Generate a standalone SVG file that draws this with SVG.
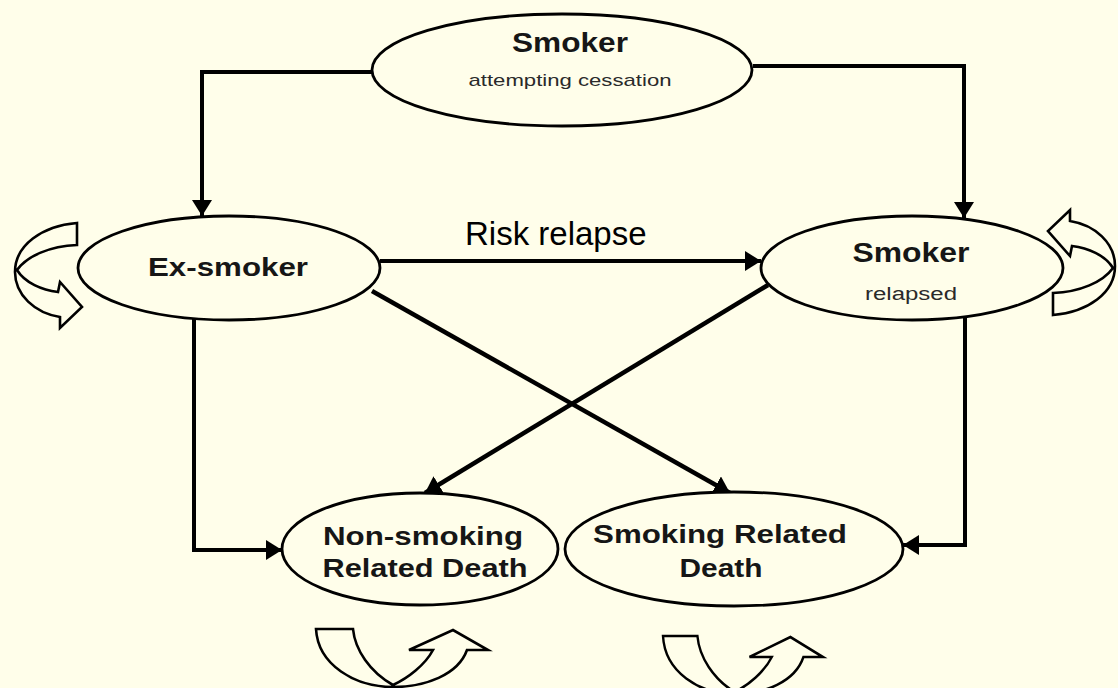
<svg xmlns="http://www.w3.org/2000/svg" xmlns:xlink="http://www.w3.org/1999/xlink" width="1118" height="688" viewBox="0 0 1118 688">
<style>
.bg{fill:#FFFEEA}
.node ellipse{fill:#FFFEEA;stroke:#000;stroke-width:2.8}
.t{font-family:"Liberation Sans",Arial,sans-serif;font-weight:bold;fill:#161616;text-anchor:middle}
.s{font-family:"Liberation Sans",Arial,sans-serif;font-weight:normal;fill:#2a2a2a;text-anchor:middle}
.lbl{font-family:"Liberation Sans",Arial,sans-serif;font-weight:normal;fill:#000;font-size:33px}
.conn{fill:none;stroke:#000;stroke-width:4;marker-end:url(#ah)}
.diag{stroke-width:4.5}
.loop{fill:#FFFEEA;stroke:#000;stroke-width:2.6;stroke-linejoin:miter}
</style>
<defs>
<marker id="ah" viewBox="0 0 16 20" refX="16" refY="10" markerWidth="16" markerHeight="20" markerUnits="userSpaceOnUse" orient="auto">
<path d="M0 0 L16 10 L0 20 Z" fill="#000"/>
</marker>
<path id="loopSide" d="M77 223 L77 245 C50 246 27 256 17 270 C25 283 42 290 58 292 L60 282 L82 307 L60 328 L60 317 C35 313 15 295 15 272 C15 245 42 226 77 223 Z"/>
<path id="loopBottom" d="M0 0 L37 0 C39 21 54 43 77 56 C92 49 109 36 117 21 L93 21 L137 1 L172 21 L151 21 C142 46 109 58 77 58 C39 58 2 36 0 0 Z"/>
</defs>
<rect class="bg" x="0" y="0" width="1118" height="688"/>

<g id="connectors">
<path class="conn" d="M372 72 H202 V216"/>
<path class="conn" d="M753 66 H964 V218"/>
<path class="conn" d="M380 261 H761"/>
<path class="conn diag" d="M372 291 L730 493"/>
<path class="conn diag" d="M768 285 L425 493"/>
<path class="conn" d="M194 319 V550 H282"/>
<path class="conn" d="M965 317 V545 H903"/>
<text class="lbl" x="465" y="245">Risk relapse</text>
<g id="self-loops">
<use class="loop" xlink:href="#loopSide"/>
<use class="loop" xlink:href="#loopSide" transform="translate(1130,538) rotate(180)"/>
<use class="loop" xlink:href="#loopBottom" transform="translate(316,629)"/>
<use class="loop" xlink:href="#loopBottom" transform="translate(663,636) scale(0.93,1)"/>
</g>
</g>

<g id="node-smoker-attempting" class="node">
<ellipse cx="562" cy="70" rx="190" ry="56"/>
<text class="t" x="570" y="52" font-size="28" textLength="116" lengthAdjust="spacingAndGlyphs">Smoker</text>
<text class="s" x="570" y="86" font-size="17" textLength="203" lengthAdjust="spacingAndGlyphs">attempting cessation</text>
</g>

<g id="node-ex-smoker" class="node">
<ellipse cx="229" cy="268" rx="151" ry="52"/>
<text class="t" x="228" y="276" font-size="26" textLength="160" lengthAdjust="spacingAndGlyphs">Ex-smoker</text>
</g>

<g id="node-smoker-relapsed" class="node">
<ellipse cx="912" cy="268" rx="151" ry="52"/>
<text class="t" x="911" y="262" font-size="27" textLength="117" lengthAdjust="spacingAndGlyphs">Smoker</text>
<text class="s" x="911" y="300" font-size="18" textLength="92" lengthAdjust="spacingAndGlyphs">relapsed</text>
</g>

<g id="node-non-smoking-death" class="node">
<ellipse cx="420" cy="549" rx="138" ry="56"/>
<text class="t" x="423" y="545" font-size="25" textLength="200" lengthAdjust="spacingAndGlyphs">Non-smoking</text>
<text class="t" x="425" y="577" font-size="25" textLength="205" lengthAdjust="spacingAndGlyphs">Related Death</text>
</g>

<g id="node-smoking-death" class="node">
<ellipse cx="734" cy="549" rx="169" ry="57"/>
<text class="t" x="720" y="543" font-size="25" textLength="254" lengthAdjust="spacingAndGlyphs">Smoking Related</text>
<text class="t" x="721" y="577" font-size="25" textLength="83" lengthAdjust="spacingAndGlyphs">Death</text>
</g>
</svg>
